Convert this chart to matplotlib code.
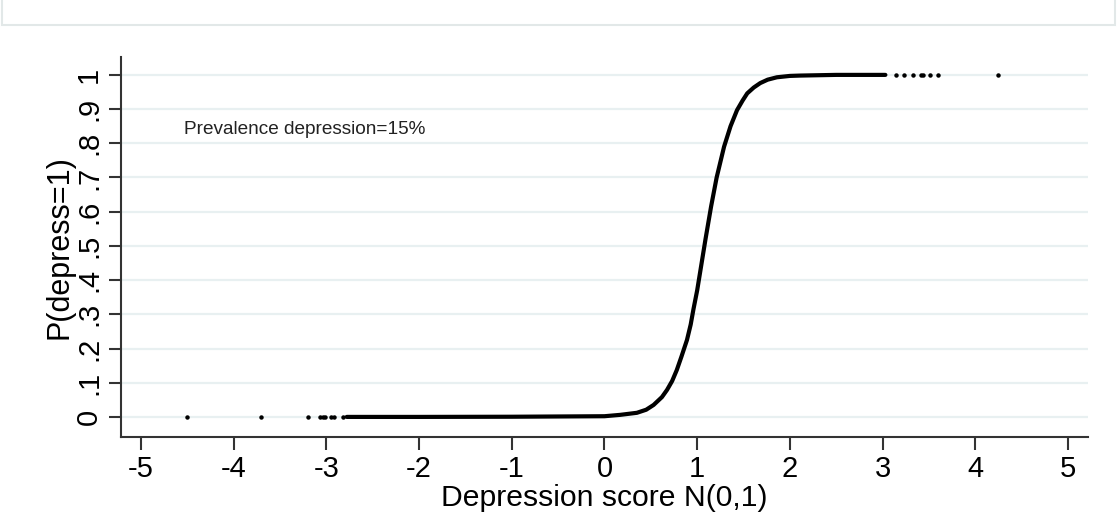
import numpy as np
import matplotlib.pyplot as plt
from matplotlib.patches import Rectangle

plt.rcParams['font.family'] = ['Liberation Sans', 'DejaVu Sans']

# fitted probability along the dense part of the sample
score = [-2.78, -2.0, -1.0, 0.0, 0.17, 0.35, 0.45, 0.53, 0.62, 0.675, 0.73, 0.78, 0.83,
         0.89, 0.93, 0.96, 1.0, 1.03, 1.09, 1.15, 1.21, 1.29, 1.36, 1.43, 1.49, 1.54,
         1.61, 1.68, 1.76, 1.86, 2.0, 2.11, 2.5, 3.03]
prob = [0.0, 0.0, 0.0005, 0.002, 0.006, 0.012, 0.021, 0.035, 0.058, 0.079, 0.105, 0.137, 0.176,
        0.225, 0.27, 0.315, 0.37, 0.42, 0.52, 0.615, 0.70, 0.79, 0.85, 0.897, 0.925, 0.946,
        0.963, 0.976, 0.986, 0.993, 0.997, 0.998, 1.0, 1.0]

# sparse observations in the tails
tail_lo = [-4.50, -3.70, -3.20, -3.07, -3.04, -3.01, -2.95, -2.92, -2.82]
tail_hi = [3.14, 3.23, 3.33, 3.41, 3.44, 3.51, 3.60, 4.25]

xticks = [-5, -4, -3, -2, -1, 0, 1, 2, 3, 4, 5]
yticks = [0, .1, .2, .3, .4, .5, .6, .7, .8, .9, 1]
ylabels = ['0', '.1', '.2', '.3', '.4', '.5', '.6', '.7', '.8', '.9', '1']

fig = plt.figure(figsize=(11.17, 5.22), dpi=100)
fig.patches.append(Rectangle((0.002, 0.952), 0.996, 0.06, transform=fig.transFigure,
                             facecolor='white', edgecolor='#e2e8e8', linewidth=1.5))
ax = fig.add_axes([0.1083, 0.163, 0.8657, 0.728])

for yv in yticks:
    ax.axhline(yv, color='#e8f0f1', linewidth=1.6, zorder=0)

ax.plot(score, prob, color='black', linewidth=3.0, solid_capstyle='round',
        solid_joinstyle='round', zorder=3)
ax.plot(tail_lo, [0] * len(tail_lo), 'o', color='black', markersize=2.2, zorder=3)
ax.plot(tail_hi, [1] * len(tail_hi), 'o', color='black', markersize=2.2, zorder=3)

ax.set_xlim(-5.215, 5.215)
ax.set_ylim(-0.0585, 1.0526)
ax.set_xticks(xticks)
ax.set_xticklabels([str(v) for v in xticks])
ax.set_yticks(yticks)
ax.set_yticklabels(ylabels, rotation=90, va='center')

for s in ['top', 'right']:
    ax.spines[s].set_visible(False)
for s in ['left', 'bottom']:
    ax.spines[s].set_color('#333333')
    ax.spines[s].set_linewidth(1.5)

ax.tick_params(axis='both', direction='out', length=9, width=1.5, color='#333333',
               labelsize=21, pad=4)
ax.set_xlabel('Depression score N(0,1)', fontsize=21.7, labelpad=1)
ax.set_ylabel('P(depress=1)', fontsize=22, labelpad=0)

ax.text(-4.54, 0.84, 'Prevalence depression=15%', fontsize=13.7, color='#222222',
        va='center', ha='left')

fig.savefig('out.png', dpi=100)
